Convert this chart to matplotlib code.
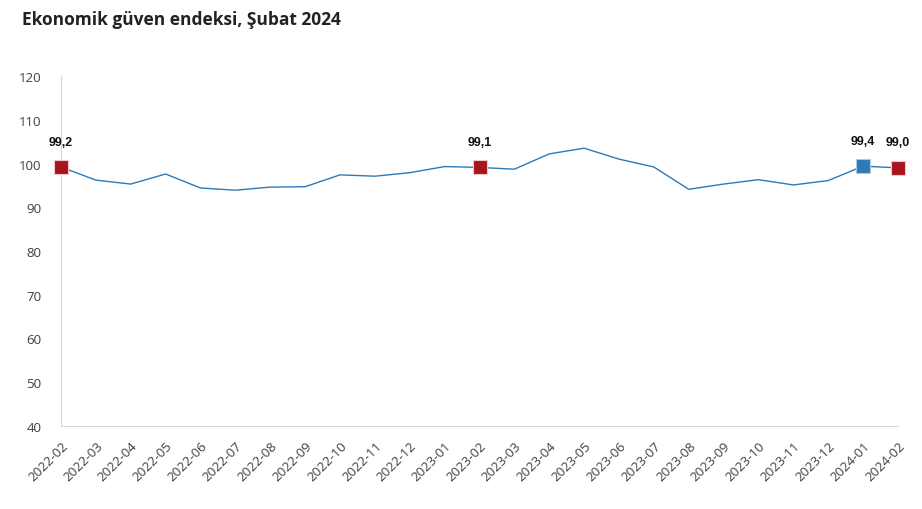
import matplotlib
matplotlib.use("Agg")
import matplotlib.pyplot as plt

months = ['2022-02', '2022-03', '2022-04', '2022-05', '2022-06', '2022-07', '2022-08',
          '2022-09', '2022-10', '2022-11', '2022-12', '2023-01', '2023-02', '2023-03',
          '2023-04', '2023-05', '2023-06', '2023-07', '2023-08', '2023-09', '2023-10',
          '2023-11', '2023-12', '2024-01', '2024-02']
values = [99.2, 96.2, 95.3, 97.6, 94.4, 93.9, 94.6, 94.7, 97.4, 97.1, 97.9, 99.3, 99.1,
          98.7, 102.2, 103.5, 101.0, 99.2, 94.1, 95.3, 96.3, 95.1, 96.1, 99.4, 99.0]
# highlighted months and their marker colours
marked = ['2022-02', '2023-02', '2024-01', '2024-02']
marked_colors = ['#a8151b', '#a8151b', '#2e7ab8', '#a8151b']
yticks = [40, 50, 60, 70, 80, 90, 100, 110, 120]

line_color = '#2e7ab8'

fig = plt.figure(figsize=(9.22, 5.10), dpi=100)
ax = fig.add_axes([61/922, 1 - 427/510, (898 - 61)/922, (427 - 77)/510])

x = list(range(len(months)))
ax.plot(x, values, color=line_color, lw=1.0, zorder=2)

for m, c in zip(marked, marked_colors):
    i = months.index(m)
    ax.plot(i, values[i], marker='s', ms=10, color=c, mec='#f0c8c8' if c != line_color else '#a9cbe6',
            mew=0.8, zorder=3, clip_on=False)
    ax.annotate(f"{values[i]:.1f}".replace('.', ','), (i, values[i]), xytext=(0, 14),
                textcoords='offset points', ha='center', va='bottom',
                fontsize=9, fontweight='bold', family='Liberation Sans', color='#111111')

ax.set_xlim(0, len(months) - 1)
ax.set_ylim(40, 120)
ax.set_yticks(yticks)
ax.set_xticks(x)
ax.set_xticklabels(months, rotation=45, ha='right', va='top', rotation_mode='anchor',
                   family='Open Sans', fontsize=9.5, color='#404040')
ax.set_yticklabels([str(v) for v in yticks], family='Open Sans', fontsize=9.5, color='#404040')
ax.tick_params(axis='both', length=0)
ax.tick_params(axis='y', pad=14)
ax.tick_params(axis='x', pad=9)

for s in ['top', 'right']:
    ax.spines[s].set_visible(False)
ax.spines['left'].set_color('#d9d9d9')
ax.spines['bottom'].set_color('#d9d9d9')
ax.spines['left'].set_linewidth(0.8)
ax.spines['bottom'].set_linewidth(0.8)

fig.text(22/922, 1 - 20/510, 'Ekonomik güven endeksi, Şubat 2024', family='Open Sans',
         fontweight='bold', fontsize=12.5, color='#222222', va='center', ha='left')

fig.savefig('out.png', dpi=100)
